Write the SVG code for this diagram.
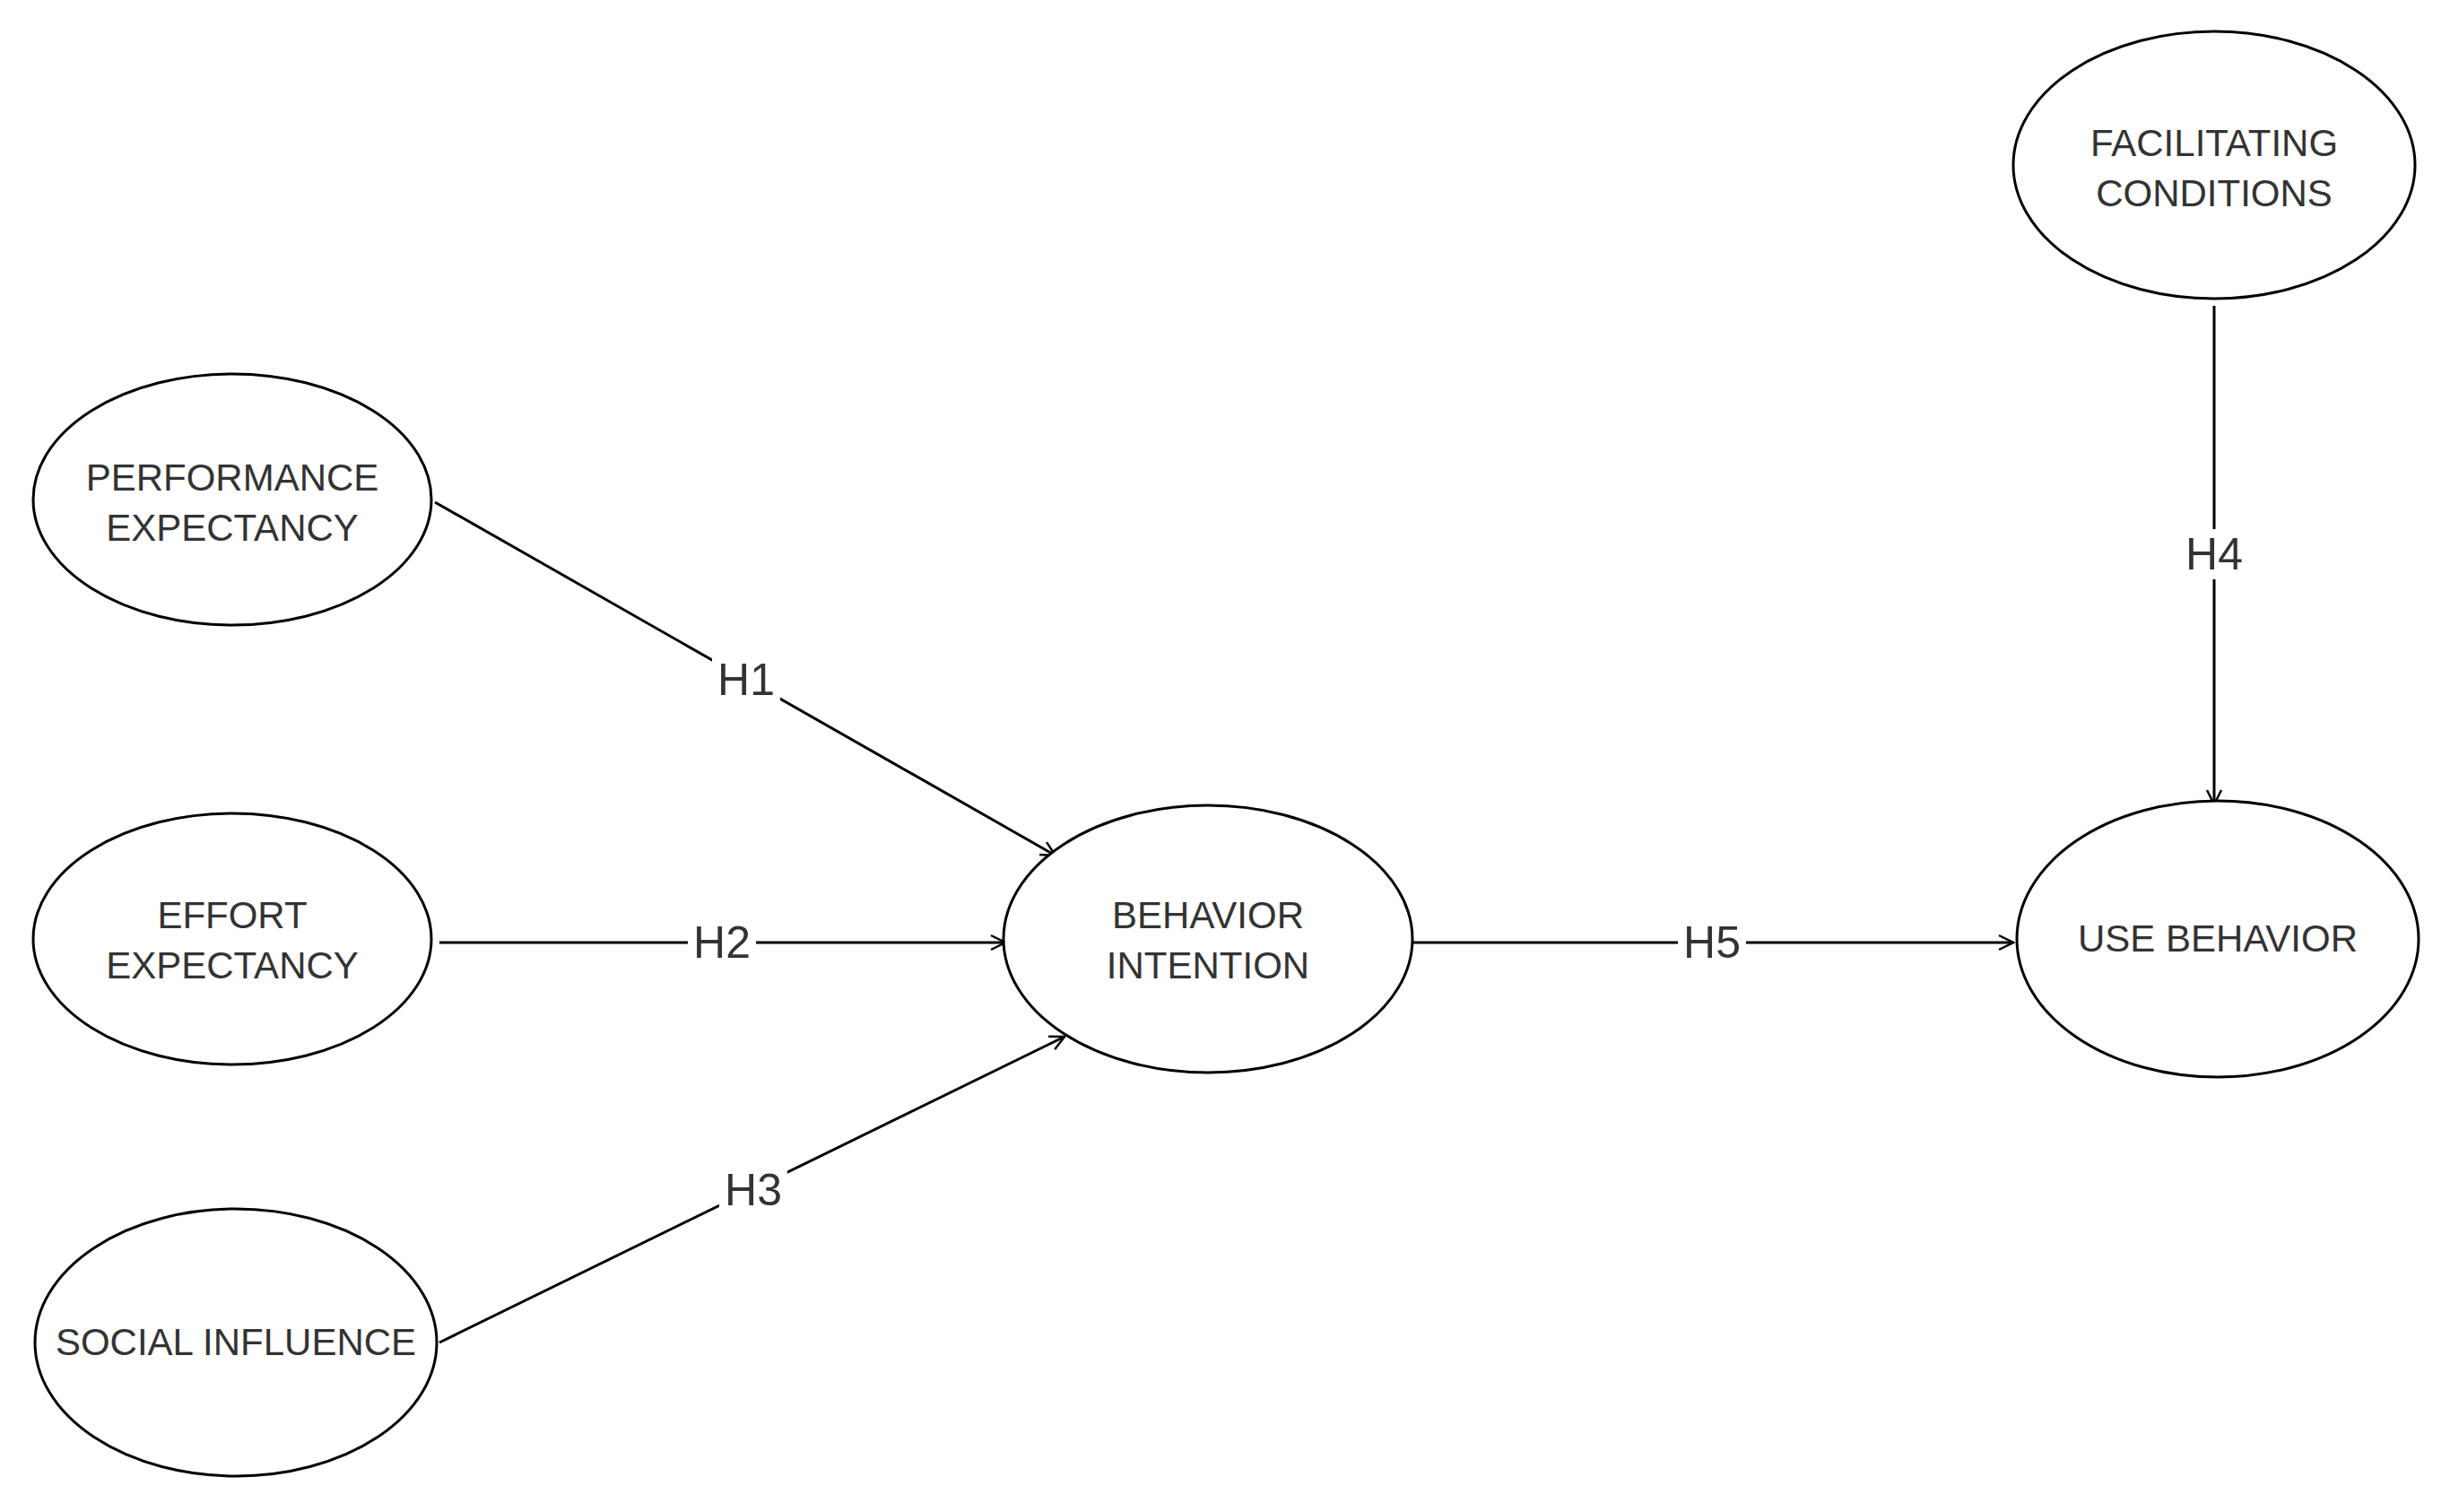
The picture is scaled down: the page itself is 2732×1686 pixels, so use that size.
<svg xmlns="http://www.w3.org/2000/svg" width="2732" height="1686" viewBox="0 0 2732 1686">
<defs>
<marker id="arr" viewBox="0 0 20 20" refX="18" refY="10" markerWidth="20" markerHeight="20" markerUnits="userSpaceOnUse" orient="auto">
<path d="M2,2 L18,10 L2,18" fill="none" stroke="#000" stroke-width="2.5"/>
</marker>
<style>
.n{fill:#fff;stroke:#000;stroke-width:3}
.t{font-family:"Liberation Sans",Arial,sans-serif;font-size:42px;fill:#333;text-anchor:middle}
.e{stroke:#000;stroke-width:3;fill:none;marker-end:url(#arr)}
.l{font-family:"Liberation Sans",Arial,sans-serif;font-size:50px;fill:#333;text-anchor:middle;dominant-baseline:central}
.b{fill:#fff}
</style>
</defs>
<rect width="2732" height="1686" fill="#fff"/>
<g id="edges">
<line class="e" x1="485" y1="560" x2="1177" y2="954"/>
<line class="e" x1="490" y1="1051" x2="1121" y2="1051"/>
<line class="e" x1="490" y1="1497" x2="1187" y2="1156"/>
<line class="e" x1="1576" y1="1051" x2="2245" y2="1051"/>
<line class="e" x1="2469" y1="341" x2="2469" y2="897"/>
<rect class="b" x="794" y="730" width="76" height="56"/><text class="l" x="832" y="758">H1</text>
<rect class="b" x="767" y="1023" width="76" height="56"/><text class="l" x="805" y="1051">H2</text>
<rect class="b" x="802" y="1299" width="76" height="56"/><text class="l" x="840" y="1327">H3</text>
<rect class="b" x="1871" y="1023" width="76" height="56"/><text class="l" x="1909" y="1051">H5</text>
<rect class="b" x="2431" y="590" width="76" height="56"/><text class="l" x="2469" y="618">H4</text>
</g>
<g id="pe"><ellipse class="n" cx="259" cy="557" rx="222" ry="140"/><text class="t" x="259" y="547">PERFORMANCE</text><text class="t" x="259" y="603">EXPECTANCY</text></g>
<g id="ee"><ellipse class="n" cx="259" cy="1047" rx="222" ry="140"/><text class="t" x="259" y="1035">EFFORT</text><text class="t" x="259" y="1091">EXPECTANCY</text></g>
<g id="si"><ellipse class="n" cx="263" cy="1497" rx="224" ry="149"/><text class="t" x="263" y="1511">SOCIAL INFLUENCE</text></g>
<g id="bi"><ellipse class="n" cx="1347" cy="1047" rx="228" ry="149"/><text class="t" x="1347" y="1035">BEHAVIOR</text><text class="t" x="1347" y="1091">INTENTION</text></g>
<g id="ub"><ellipse class="n" cx="2473" cy="1047" rx="224" ry="154"/><text class="t" x="2473" y="1061">USE BEHAVIOR</text></g>
<g id="fc"><ellipse class="n" cx="2469" cy="184" rx="224" ry="149"/><text class="t" x="2469" y="174">FACILITATING</text><text class="t" x="2469" y="230">CONDITIONS</text></g>
</svg>
